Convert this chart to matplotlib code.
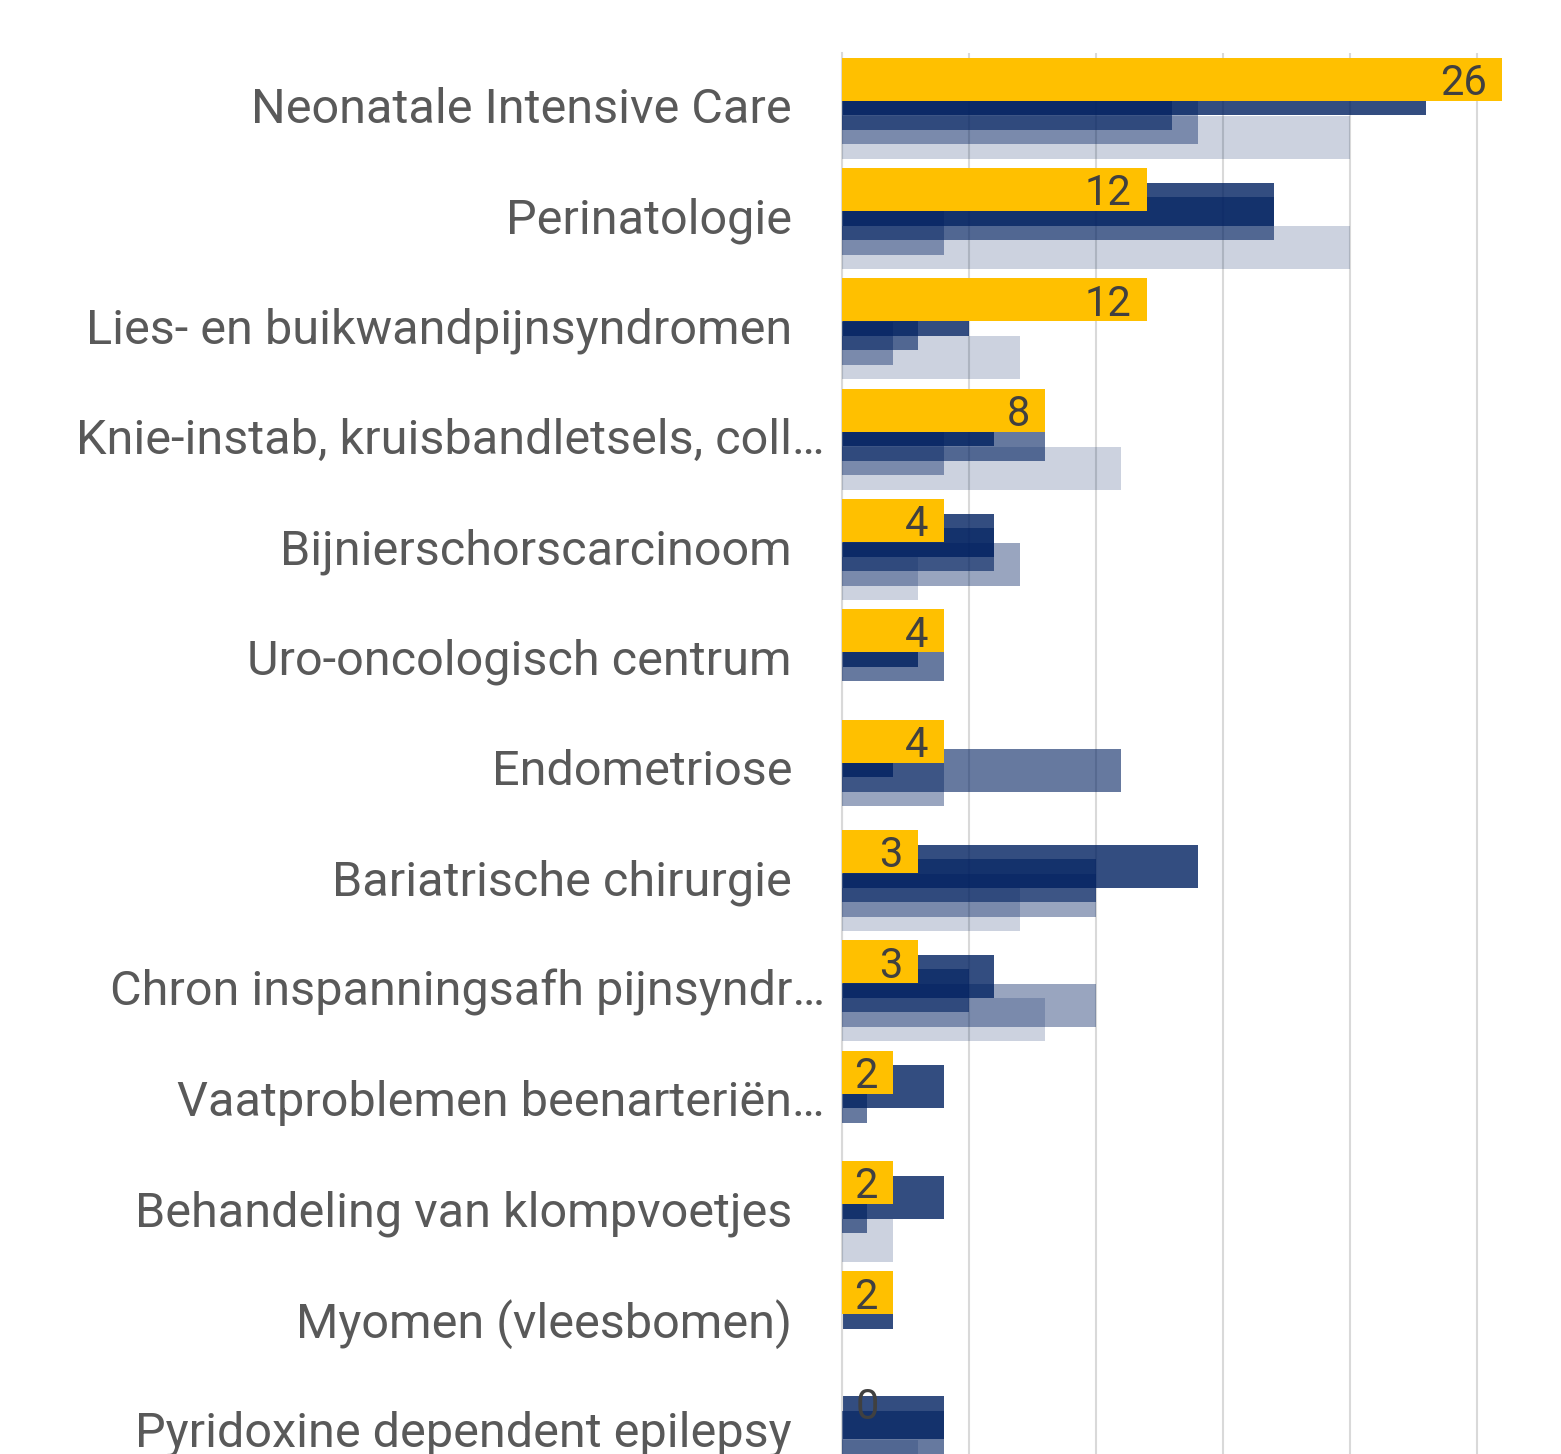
import matplotlib
matplotlib.use("Agg")
import matplotlib.pyplot as plt
import matplotlib.transforms as mtransforms
import numpy as np

# categories top to bottom
categories = [
    "Neonatale Intensive Care",
    "Perinatologie",
    "Lies- en buikwandpijnsyndromen",
    "Knie-instab, kruisbandletsels, coll…",
    "Bijnierschorscarcinoom",
    "Uro-oncologisch centrum",
    "Endometriose",
    "Bariatrische chirurgie",
    "Chron inspanningsafh pijnsyndr…",
    "Vaatproblemen beenarteriën…",
    "Behandeling van klompvoetjes",
    "Myomen (vleesbomen)",
    "Pyridoxine dependent epilepsy",
]

# current period (yellow, labelled)
current = [26, 12, 12, 8, 4, 4, 4, 3, 3, 2, 2, 2, 0]
# earlier periods, most recent first (navy, fading)
prev_1 = [23, 17, 5, 6, 6, 3, 2, 14, 6, 4, 4, 2, 4]
prev_2 = [13, 17, 3, 8, 6, 4, 11, 10, 5, 1, 1, 0, 4]
prev_3 = [14, 4, 2, 4, 7, 0, 4, 10, 10, 0, 0, 0, 0]
prev_4 = [20, 20, 7, 11, 3, 0, 0, 7, 8, 0, 2, 0, 3]

YELLOW = "#FFC000"
NAVY = "#002060"
PREV_ALPHAS = [0.8, 0.6, 0.4, 0.2]
GRID = "#d9d9d9"
TEXT = "#595959"
LABEL = "#404040"

plt.rcParams["font.family"] = ["Roboto", "DejaVu Sans"]

fig = plt.figure(figsize=(15.61, 14.54), dpi=100)
# axes runs past the bottom edge, the picture is cropped there
ax = fig.add_axes([0.5394, -0.02304, 0.4606, 0.98659])

y = np.arange(len(categories))
bar_h = 0.39
step = 0.1314

for k, (vals, alpha) in enumerate(zip([prev_1, prev_2, prev_3, prev_4], PREV_ALPHAS)):
    ax.barh(y + (k - 1) * step, vals, height=bar_h, color=NAVY, alpha=alpha,
            linewidth=0, zorder=2 + k)

bars = ax.barh(y - 2 * step, current, height=bar_h, color=YELLOW, linewidth=0, zorder=10)

for bar, val in zip(bars, current):
    yc = bar.get_y() + bar.get_height() / 2
    if val > 0:
        ax.annotate(str(val), (val, yc), xytext=(-11, -3), textcoords="offset points",
                    ha="right", va="center", fontsize=30, color=LABEL, zorder=11)
    else:
        ax.annotate(str(val), (val, yc), xytext=(10, -3), textcoords="offset points",
                    ha="left", va="center", fontsize=30, color=LABEL, zorder=11)

ax.set_xlim(0, 28.31)
ax.set_ylim(12.5, -0.5)
ax.set_xticks([0, 5, 10, 15, 20, 25])
ax.set_xticklabels([])
ax.set_yticks([])
ax.tick_params(axis="x", length=0)
ax.grid(axis="x", color=GRID, linewidth=1.5, zorder=0)
ax.set_axisbelow(True)
for side in ["top", "right", "bottom"]:
    ax.spines[side].set_visible(False)
ax.spines["left"].set_color(GRID)
ax.spines["left"].set_linewidth(1.5)

base = ax.get_yaxis_transform()
for i, name in enumerate(categories):
    shift = -17 if name.endswith("…") else -50
    tr = mtransforms.offset_copy(base, fig=fig, x=shift, y=3.5, units="dots")
    ax.text(0, i, name, transform=tr, ha="right", va="center_baseline",
            fontsize=35, color=TEXT)

fig.savefig("out.png", dpi=100)
